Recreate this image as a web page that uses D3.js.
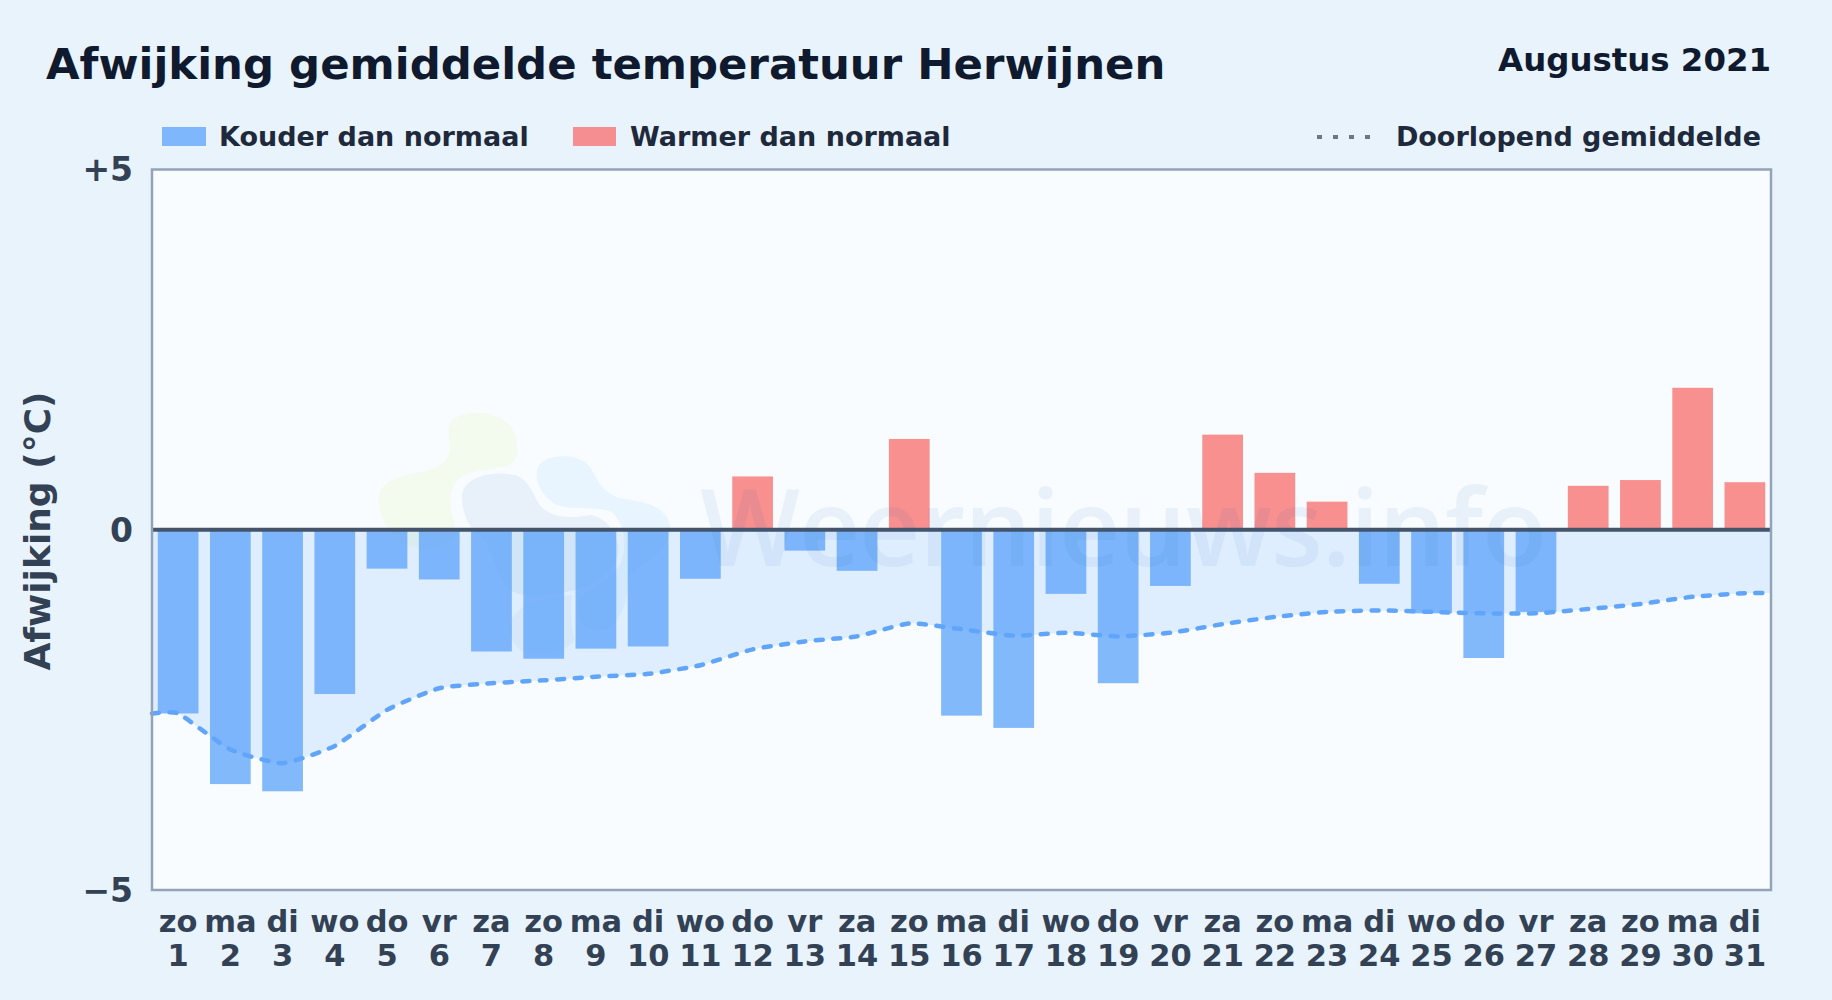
<!DOCTYPE html>
<html>
<head>
<meta charset="utf-8">
<script src="https://cdn.jsdelivr.net/npm/d3@7"></script>
<style>
  html, body { margin: 0; padding: 0; background: #e8f3fc; }
  svg { display: block; font-family: "DejaVu Sans", sans-serif; font-weight: bold; }
</style>
</head>
<body>
<div id="chart"></div>
<script>
const weekdays = ['zo','ma','di','wo','do','vr','za','zo','ma','di','wo','do','vr','za','zo','ma','di','wo','do','vr','za','zo','ma','di','wo','do','vr','za','zo','ma','di'];
const days = [1,2,3,4,5,6,7,8,9,10,11,12,13,14,15,16,17,18,19,20,21,22,23,24,25,26,27,28,29,30,31];
const deviation = [-2.55,-3.53,-3.63,-2.28,-0.54,-0.69,-1.69,-1.79,-1.65,-1.62,-0.68,0.74,-0.29,-0.57,1.26,-2.58,-2.75,-0.89,-2.13,-0.78,1.32,0.79,0.39,-0.75,-1.16,-1.78,-1.14,0.61,0.69,1.97,0.66];
const runningMean = [-2.55,-3.05,-3.24,-3.0,-2.5,-2.2,-2.13,-2.09,-2.04,-2.0,-1.88,-1.66,-1.55,-1.48,-1.3,-1.38,-1.47,-1.43,-1.48,-1.43,-1.31,-1.21,-1.14,-1.12,-1.14,-1.16,-1.16,-1.1,-1.03,-0.93,-0.88];
const yTicks = [5, 0, -5];

const width = 1832, height = 1000;
const margin = {top: 169.5, right: 61, bottom: 110, left: 152};
const plotW = width - margin.left - margin.right;
const plotH = height - margin.top - margin.bottom;

const svg = d3.select('#chart').append('svg')
    .attr('width', width)
    .attr('height', height);

const g = svg.append('g')
    .attr('transform', `translate(${margin.left},${margin.top})`);

const x = d3.scaleBand().domain(days).range([0, plotW]).paddingInner(0.22).paddingOuter(0.11);
const y = d3.scaleLinear().domain([-5, 5]).range([plotH, 0]);
const cx = d => x(d) + x.bandwidth() / 2;

// Plot background
g.append('rect')
    .attr('width', plotW)
    .attr('height', plotH)
    .attr('fill', '#f8fcff');

// Watermark logo, underneath the bars
const logo = g.append('g').attr('transform', `translate(${-margin.left},${-margin.top})`);
logo.append('path')
    .attr('fill', '#bae22b').attr('fill-opacity', 0.08)
    .attr('d', 'M379,500 C378,485 392,478 415,473 C435,470 447,465 450,450 C449,435 446,425 455,418 C468,410 495,410 510,425 C520,440 520,460 508,466 C490,470 470,470 460,478 C448,488 450,505 452,515 C458,530 455,540 445,545 C430,550 420,550 405,545 C390,535 380,520 379,500 Z');
logo.append('path')
    .attr('fill', '#1e6ab4').attr('fill-opacity', 0.07)
    .attr('d', 'M462,497 C462,478 490,470 515,475 C530,480 533,495 540,505 C552,520 575,518 590,515 C605,517 615,530 618,545 C622,565 600,585 575,590 C545,597 515,600 505,585 C495,570 490,545 480,535 C470,530 462,515 462,497 Z');
logo.append('path')
    .attr('fill', '#30a3f2').attr('fill-opacity', 0.08)
    .attr('d', 'M537,470 C540,455 570,452 585,462 C600,475 595,490 620,498 C645,502 665,505 670,525 C672,550 650,560 630,575 C628,600 620,630 600,630 C585,632 575,620 577,605 C580,590 600,590 620,565 C628,545 625,525 612,512 C595,505 565,512 552,502 C540,492 535,480 537,470 Z');
logo.append('path')
    .attr('fill', '#1e6ab4').attr('fill-opacity', 0.05)
    .attr('d', 'M510,625 C512,605 545,597 572,595 C570,612 572,630 575,640 C565,655 530,658 520,650 C512,642 508,635 510,625 Z');

// Area between zero and running mean, runs to the plot edges
const edgePoints = [{px: 0, v: runningMean[0]}]
    .concat(days.map((d, i) => ({px: cx(d), v: runningMean[i]})))
    .concat([{px: plotW, v: runningMean[30]}]);
const meanCurve = d3.curveCardinal.tension(0.5);

g.append('path')
    .datum(edgePoints)
    .attr('fill', '#60a5fa')
    .attr('fill-opacity', 0.16)
    .attr('d', d3.area().x(d => d.px).y0(y(0)).y1(d => y(d.v)).curve(meanCurve));

// Bars
g.selectAll('.bar')
    .data(days)
    .enter()
    .append('rect')
    .attr('class', 'bar')
    .attr('x', d => x(d))
    .attr('width', x.bandwidth())
    .attr('y', (d, i) => y(Math.max(0, deviation[i])))
    .attr('height', (d, i) => Math.abs(y(deviation[i]) - y(0)))
    .attr('fill', (d, i) => deviation[i] < 0 ? '#60a5fa' : '#f87171')
    .attr('fill-opacity', 0.78);

// Watermark text, on top of the bars
svg.append('text')
    .attr('x', 700)
    .attr('y', 566)
    .attr('font-family', '"Open Sans", sans-serif')
    .attr('font-weight', 600)
    .attr('font-size', 106)
    .attr('textLength', 847)
    .attr('fill', '#1e6ab4')
    .attr('fill-opacity', 0.07)
    .text('Weernieuws.info');

// Running mean
g.append('path')
    .datum(edgePoints)
    .attr('fill', 'none')
    .attr('stroke', '#60a5fa')
    .attr('stroke-width', 4.5)
    .attr('stroke-dasharray', '7,10.5')
    .attr('stroke-linecap', 'round')
    .attr('d', d3.line().x(d => d.px).y(d => y(d.v)).curve(meanCurve));

// Zero line
g.append('line')
    .attr('x1', 0)
    .attr('x2', plotW)
    .attr('y1', y(0))
    .attr('y2', y(0))
    .attr('stroke', '#44546a')
    .attr('stroke-width', 4);

// Frame
g.append('rect')
    .attr('width', plotW)
    .attr('height', plotH)
    .attr('fill', 'none')
    .attr('stroke', '#94a3b8')
    .attr('stroke-width', 2.5);

// Axes
const tickFormat = d => d > 0 ? `+${d}` : d < 0 ? `\u2212${-d}` : `${d}`;
const yAxis = g.append('g')
    .call(d3.axisLeft(y).tickValues(yTicks).tickFormat(tickFormat).tickSize(0).tickPadding(19));
yAxis.select('.domain').remove();
yAxis.selectAll('text')
    .attr('font-family', '"DejaVu Sans", sans-serif')
    .attr('font-size', 33)
    .attr('font-weight', 'bold')
    .attr('fill', '#334155')
    .attr('transform', d => d === 5 ? null : 'translate(0,1)');

const xAxis = g.append('g')
    .attr('transform', `translate(0,${plotH})`)
    .call(d3.axisBottom(x).tickFormat('').tickSize(0));
xAxis.select('.domain').remove();
xAxis.selectAll('.tick text').remove();
xAxis.selectAll('.tick').each(function(d, i) {
    const t = d3.select(this);
    t.append('text').attr('y', 42).attr('text-anchor', 'middle').text(weekdays[i]);
    t.append('text').attr('y', 76).attr('text-anchor', 'middle').text(d);
});
xAxis.selectAll('text')
    .attr('font-family', '"DejaVu Sans", sans-serif')
    .attr('font-size', 30.5)
    .attr('font-weight', 'bold')
    .attr('fill', '#334155');

svg.append('text')
    .attr('transform', 'translate(50,531) rotate(-90)')
    .attr('text-anchor', 'middle')
    .attr('font-size', 36)
    .attr('fill', '#334155')
    .text('Afwijking (\u00b0C)');

// Title
svg.append('text')
    .attr('x', 46)
    .attr('y', 79)
    .attr('font-size', 43.4)
    .attr('fill', '#0f1a2e')
    .text('Afwijking gemiddelde temperatuur Herwijnen');

svg.append('text')
    .attr('x', 1771)
    .attr('y', 71)
    .attr('text-anchor', 'end')
    .attr('font-size', 32.4)
    .attr('fill', '#0f1a2e')
    .text('Augustus 2021');

// Legend
const legendColor = '#1e293b';
svg.append('rect').attr('x', 162).attr('y', 127).attr('width', 44).attr('height', 19)
    .attr('fill', '#60a5fa').attr('fill-opacity', 0.78);
svg.append('text').attr('x', 219).attr('y', 146).attr('font-size', 27).attr('fill', legendColor)
    .text('Kouder dan normaal');
svg.append('rect').attr('x', 573).attr('y', 127).attr('width', 43).attr('height', 19)
    .attr('fill', '#f87171').attr('fill-opacity', 0.78);
svg.append('text').attr('x', 630).attr('y', 146).attr('font-size', 27).attr('fill', legendColor)
    .text('Warmer dan normaal');
svg.append('line').attr('x1', 1317).attr('x2', 1375).attr('y1', 137).attr('y2', 137)
    .attr('stroke', '#6b7686').attr('stroke-width', 4).attr('stroke-dasharray', '5,11');
svg.append('text').attr('x', 1761).attr('y', 146).attr('text-anchor', 'end').attr('font-size', 27).attr('fill', legendColor)
    .text('Doorlopend gemiddelde');
</script>
</body>
</html>
